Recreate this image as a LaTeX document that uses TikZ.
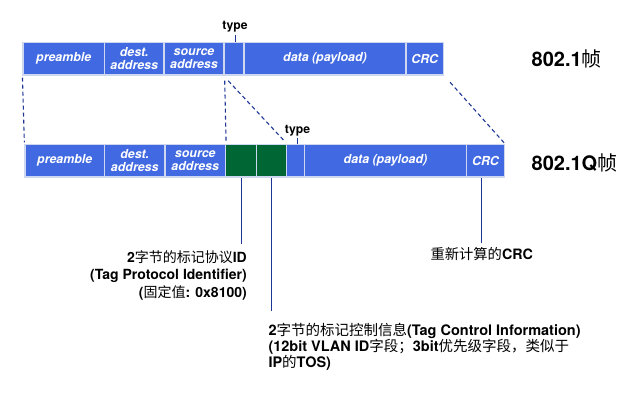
\documentclass[tikz,border=0pt]{standalone}
\usepackage{fontspec}
\setmainfont{TeX Gyre Heros}
\newfontfamily\cjk{Noto Sans CJK SC}
\newcommand\zh[1]{{\cjk\mdseries\upshape #1}}
\definecolor{fblue}{RGB}{65,105,225}
\definecolor{fgreen}{RGB}{0,102,51}
\definecolor{fedge}{RGB}{205,215,240}
\definecolor{navy}{RGB}{30,55,150}
\tikzset{
  fld/.style={draw=fedge, line width=1.2pt, fill=fblue, text=white,
    font=\fontsize{12.4}{12.5}\selectfont\bfseries\itshape, inner sep=0pt,
    align=center, minimum height=32.5pt},
  tagfld/.style={fld, fill=fgreen},
  dsh/.style={draw=navy, line width=1.1pt, dash pattern=on 4pt off 3pt},
  lead/.style={draw=navy, line width=1pt},
  typelbl/.style={font=\fontsize{12.2}{13}\selectfont\bfseries, inner sep=2.5pt},
  note/.style={font=\fontsize{14}{17.5}\selectfont\bfseries, inner sep=0pt},
  title/.style={font=\fontsize{20}{22}\selectfont\bfseries, inner sep=0pt}
}
\begin{document}
\begin{tikzpicture}[x=1pt,y=-1pt]
\useasboundingbox (0,0) rectangle (637,410);
% top frame 802.1
\node[fld, minimum width=81.5pt] (p1) at (63.75,58.75) {preamble};
\node[fld, minimum width=59.5pt] (d1) at (134.25,58.75) {dest.\\address};
\node[fld, minimum width=60pt] (s1) at (194,58.75) {source\\address};
\node[fld, minimum width=20pt] (t1) at (234,58.75) {};
\node[fld, minimum width=162pt] (a1) at (325,58.75) {data (payload)};
\node[fld, minimum width=37.5pt] (c1) at (424.75,58.75) {CRC};
\node[typelbl, anchor=base] (tl1) at (235,29.3) {type};
\draw[lead] (tl1.south) -- (tl1.south |- t1.north);
\node[title, anchor=base west] (f1) at (531.5,66.7) {802.1\zh{帧}};
% bottom frame 802.1Q
\node[fld, minimum width=79.5pt] (p2) at (64.75,160.75) {preamble};
\node[fld, minimum width=60.5pt] (d2) at (134.75,160.75) {dest.\\address};
\node[fld, minimum width=60.5pt] (s2) at (195.25,160.75) {source\\address};
\node[tagfld, minimum width=31pt] (g1) at (241,160.75) {};
\node[tagfld, minimum width=30pt] (g2) at (271.5,160.75) {};
\node[fld, minimum width=18pt] (t2) at (295.5,160.75) {};
\node[fld, minimum width=162pt] (a2) at (385.5,160.75) {data (payload)};
\node[fld, minimum width=38pt] (c2) at (485.5,160.75) {CRC};
\node[typelbl, anchor=base] (tl2) at (297.5,133) {type};
\draw[lead] (tl2.south) -- (tl2.south |- t2.north);
\node[title, anchor=base west] (f2) at (531.5,170) {802.1Q\zh{帧}};
% dashed expansion lines
\draw[dsh, shorten <=2pt, shorten >=1.5pt] (p1.south west) -- (p2.north west);
\draw[dsh, shorten <=5pt, shorten >=1.5pt] (s1.south east) -- (s2.north east);
\draw[dsh, shorten <=7pt, shorten >=3pt] (t1.south west) -- (g2.north east);
\draw[dsh, shorten <=9pt, shorten >=1pt] (c1.south east) -- (c2.north east);
% annotations
\node[note, anchor=north east, align=right] (tpi) at (247,250) {2\zh{字节的标记协议}ID\\(Tag Protocol Identifier)\\(\zh{固定值}: 0x8100)};
\coordinate (e1) at (241.5,244);
\draw[lead] (g1.south -| e1) -- (e1);
\node[note, anchor=north west, align=left, font=\fontsize{14.5}{16}\selectfont\bfseries] (tci) at (268.3,323) {2\zh{字节的标记控制信息}(Tag Control Information)\\(12bit VLAN ID\zh{字段；}3bit\zh{优先级字段，类似于}\\IP\zh{的}TOS)};
\coordinate (e2) at (271.7,311);
\draw[lead] (g2.south -| e2) -- (e2);
\node[note, anchor=north, font=\fontsize{14.3}{17.5}\selectfont\bfseries] (crc) at (481.7,247) {\zh{重新计算的}CRC};
\coordinate (e3) at (481.7,243);
\draw[lead] (c2.south -| e3) -- (e3);
\end{tikzpicture}
\end{document}
